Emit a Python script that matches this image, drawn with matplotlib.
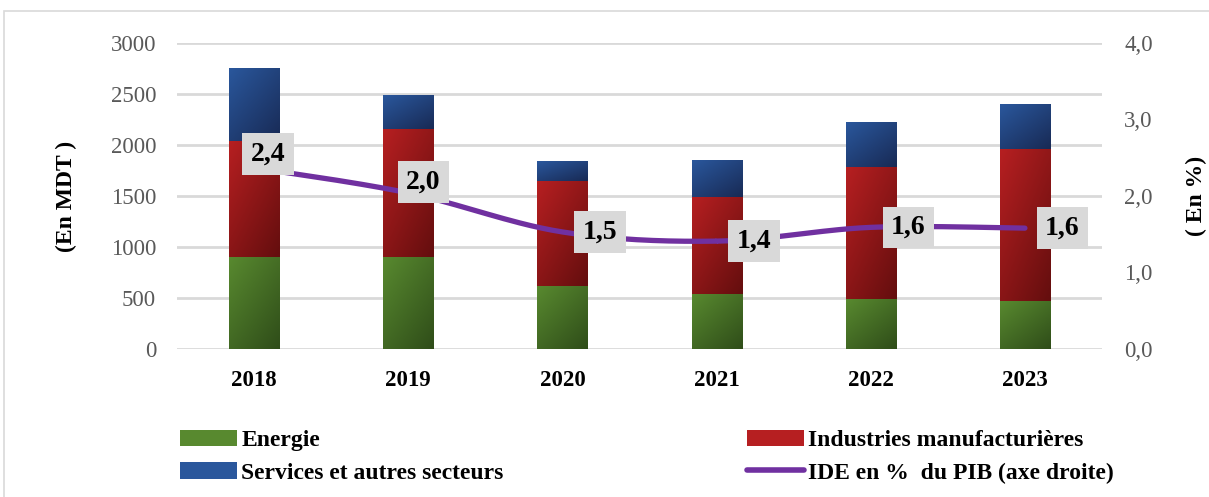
import numpy as np
import matplotlib
matplotlib.use("Agg")
import matplotlib.pyplot as plt
from matplotlib.patches import Patch, Rectangle
from matplotlib.lines import Line2D
from matplotlib.colors import LinearSegmentedColormap

plt.rcParams['font.family'] = ['Liberation Serif', 'DejaVu Serif']

# ---------------------------------------------
# Data
# ---------------------------------------------
years = ["2018", "2019", "2020", "2021", "2022", "2023"]
energie = [900, 900, 617, 539, 490, 470]
industries = [1140, 1256, 1029, 951, 1294, 1490]
services = [714, 333, 196, 362, 441, 441]
ide_pct = [2.37, 2.04, 1.53, 1.41, 1.59, 1.58]
ide_labels = ["2,4", "2,0", "1,5", "1,4", "1,6", "1,6"]

left_ticks = [0, 500, 1000, 1500, 2000, 2500, 3000]
right_ticks = [0.0, 1.0, 2.0, 3.0, 4.0]

# label offsets (points), Excel labels moved by hand for the first two
label_dx = [10, 11, 27, 27, 27, 27]
label_dy = [10, 8, 0, 0, 0, 0]

# gradient colours (top-left light -> bottom-right dark)
green_c = ("#58892f", "#2f4d19")
red_c = ("#b61f21", "#640e0e")
blue_c = ("#2a579c", "#182a55")
line_c = "#7030a0"
grid_c = "#d9d9d9"
tick_c = "#595959"

fig = plt.figure(figsize=(12.09, 4.97), dpi=100)
ax = fig.add_axes([0.1464, 0.2978, 0.7651, 0.6157])
ax2 = ax.twinx()

x = np.arange(len(years))
width = 0.325

# gradient image
gu, gv = np.meshgrid(np.linspace(0, 1, 40), np.linspace(0, 1, 80))
grad = 0.45 * gu + 0.55 * gv


def gradient_bars(bottoms, heights, colors):
    cmap = LinearSegmentedColormap.from_list("g", list(colors))
    bars = ax.bar(x, heights, width, bottom=bottoms, color=colors[0],
                  linewidth=0, zorder=2)
    for b in bars:
        x0, y0 = b.get_x(), b.get_y()
        w, h = b.get_width(), b.get_height()
        im = ax.imshow(grad, cmap=cmap, extent=(x0, x0 + w, y0, y0 + h),
                       origin="upper", aspect="auto", zorder=3,
                       interpolation="bilinear")
        im.set_clip_path(b)
    return bars


bot2 = np.array(energie)
bot3 = bot2 + np.array(industries)
gradient_bars(np.zeros(len(years)), energie, green_c)
gradient_bars(bot2, industries, red_c)
gradient_bars(bot3, services, blue_c)

ax.set_xlim(-0.5, len(years) - 0.5)
ax.set_ylim(0, 3000)
ax.set_yticks(left_ticks)
ax.set_xticks(x)
ax.set_xticklabels(years, fontsize=16.5, fontweight="bold")
ax.yaxis.grid(True, color=grid_c, linewidth=2, zorder=0)
ax.set_axisbelow(True)
ax.tick_params(axis="y", length=0, labelsize=16.5, labelcolor=tick_c, pad=15)
ax.tick_params(axis="x", length=0, pad=15)
for s in ax.spines.values():
    s.set_visible(False)
ax.set_ylabel("(En MDT )", fontsize=17, fontweight="bold", labelpad=24)


# smoothed line (Catmull-Rom through the points, like Excel smooth lines)
def smooth(xs, ys, n=30):
    px = np.concatenate([[xs[0]], xs, [xs[-1]]])
    py = np.concatenate([[ys[0]], ys, [ys[-1]]])
    ox, oy = [], []
    for i in range(1, len(px) - 2):
        t = np.linspace(0, 1, n)
        for arr, out in ((px, ox), (py, oy)):
            p0, p1, p2, p3 = arr[i - 1], arr[i], arr[i + 1], arr[i + 2]
            out.extend(0.5 * ((2 * p1) + (-p0 + p2) * t
                              + (2 * p0 - 5 * p1 + 4 * p2 - p3) * t ** 2
                              + (-p0 + 3 * p1 - 3 * p2 + p3) * t ** 3))
    return np.array(ox), np.array(oy)


sx, sy = smooth(x.astype(float), np.array(ide_pct))
ax2.plot(sx, sy, color=line_c, linewidth=3.8, solid_capstyle="round", zorder=5)
ax2.set_ylim(0, 4.0)
ax2.set_yticks(right_ticks)
ax2.set_yticklabels([f"{v:.1f}".replace(".", ",") for v in right_ticks])
ax2.tick_params(axis="y", length=0, labelsize=16.5, labelcolor=tick_c, pad=16)
for s in ax2.spines.values():
    s.set_visible(False)
ax2.set_ylabel("( En %)", fontsize=17, fontweight="bold", rotation=90,
               labelpad=24)

for i, lab in enumerate(ide_labels):
    ax2.annotate(lab, (x[i], ide_pct[i]), xytext=(label_dx[i], label_dy[i]),
                 textcoords="offset points", ha="center", va="center",
                 fontsize=20, fontweight="bold", zorder=6,
                 bbox=dict(boxstyle="square,pad=0.3", fc="#d9d9d9", ec="none"))

# legend
handles = [
    Patch(facecolor=green_c[0], edgecolor="none", label="Energie"),
    Patch(facecolor=blue_c[0], edgecolor="none", label="Services et autres secteurs"),
    Patch(facecolor=red_c[0], edgecolor="none", label="Industries manufacturières"),
    Line2D([], [], color=line_c, linewidth=4, solid_capstyle="round",
           label="IDE en %  du PIB (axe droite)"),
]
fig.legend(handles=handles, ncol=2, loc="upper left",
           bbox_to_anchor=(0.141, 0.154), frameon=False,
           prop=dict(size=17, weight="bold"), handlelength=2.4,
           handleheight=0.7, handletextpad=0.2, columnspacing=10.3,
           labelspacing=0.45, borderaxespad=0)

# outer chart border
fig.add_artist(Rectangle((0.0035, -0.01), 1.0, 0.987, transform=fig.transFigure,
                         fill=False, edgecolor="#d9d9d9", linewidth=1.2))

fig.savefig("out.png", dpi=100)
